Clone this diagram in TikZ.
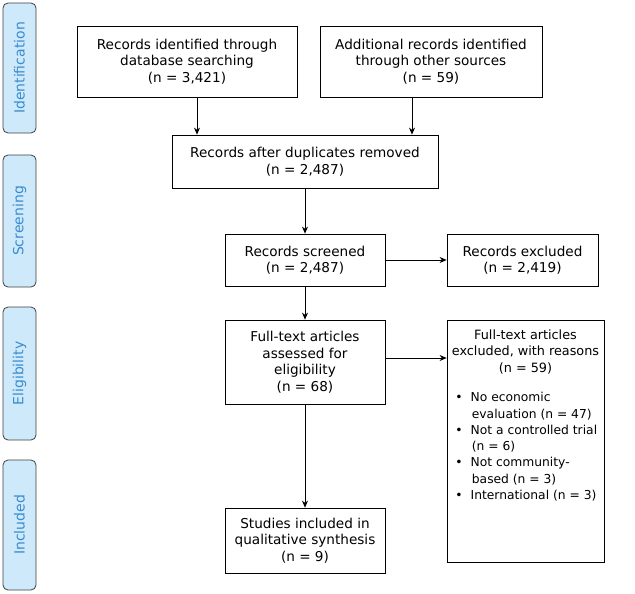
\documentclass[tikz,border=0pt]{standalone}
\usepackage{fontspec}
\setmainfont{DejaVu Sans}
\usetikzlibrary{arrows.meta}
\definecolor{sidefill}{HTML}{CDE9FA}
\definecolor{sidetext}{HTML}{3A8BD0}
\begin{document}
\begin{tikzpicture}[x=1pt,y=-1pt,
  box/.style={draw=black,line width=0.8pt,align=center,inner sep=0pt,font=\fontsize{13.6}{16.5}\selectfont},
  side/.style={draw=black!75,fill=sidefill,rounded corners=5pt,line width=0.8pt,minimum height=33pt,font=\fontsize{14}{16}\selectfont,text=sidetext,inner sep=0pt},
  arr/.style={-{Stealth[length=7pt,width=6pt]},line width=0.8pt}]
\useasboundingbox (0,0) rectangle (635,594);
\fill[white] (0,0) rectangle (635,594);
\foreach \n/\t/\a/\b in {s1/Identification/3/133,s2/Screening/155/287,s3/Eligibility/307/440,s4/Included/460/590}{
  \node[side,minimum width={\b-\a},rotate=90] (\n) at (19.5,{(\a+\b)/2}) {\t};
}
\node[box,minimum width=220pt,minimum height=71pt] (db) at (187,61.5) {Records identified through\\database searching\\(n = 3,421)};
\node[box,minimum width=222pt,minimum height=71pt] (oth) at (431,61.5) {Additional records identified\\through other sources\\(n = 59)};
\node[box,minimum width=266pt,minimum height=53pt] (dup) at (305,161.5) {Records after duplicates removed\\(n = 2,487)};
\node[box,minimum width=160pt,minimum height=52pt] (scr) at (305,260) {Records screened\\(n = 2,487)};
\node[box,minimum width=151pt,minimum height=52pt] (exc) at (522.5,260) {Records excluded\\(n = 2,419)};
\node[box,minimum width=160pt,minimum height=84pt] (ft) at (305,362) {Full-text articles\\assessed for\\eligibility\\(n = 68)};
\node[box,minimum width=157pt,minimum height=242pt,anchor=north] (fte) at (525.5,320) {};
\node[box,draw=none,anchor=north,font=\fontsize{12.8}{16.5}\selectfont] (ftet) at (525.5,329) {Full-text articles\\excluded, with reasons\\(n = 59)};
\node[box,draw=none,anchor=north west,align=left,font=\fontsize{12.3}{16.3}\selectfont] (ftel) at (455,392) {%
\textbullet\hspace{8pt}No economic\\\hspace{16.5pt}evaluation (n = 47)\\
\textbullet\hspace{8pt}Not a controlled trial\\\hspace{16.5pt}(n = 6)\\
\textbullet\hspace{8pt}Not community-\\\hspace{16.5pt}based (n = 3)\\
\textbullet\hspace{8pt}International (n = 3)};
\node[box,minimum width=160pt,minimum height=65pt] (inc) at (305,540.5) {Studies included in\\qualitative synthesis\\(n = 9)};
\draw[arr] (db.south -| 197,0) -- (dup.north -| 197,0);
\draw[arr] (oth.south -| 412,0) -- (dup.north -| 412,0);
\draw[arr] (dup) -- (scr);
\draw[arr] (scr) -- (exc);
\draw[arr] (scr) -- (ft);
\draw[arr] (ft.east |- 0,358) -- (fte.west |- 0,358);
\draw[arr] (ft) -- (inc);
\end{tikzpicture}
\end{document}
